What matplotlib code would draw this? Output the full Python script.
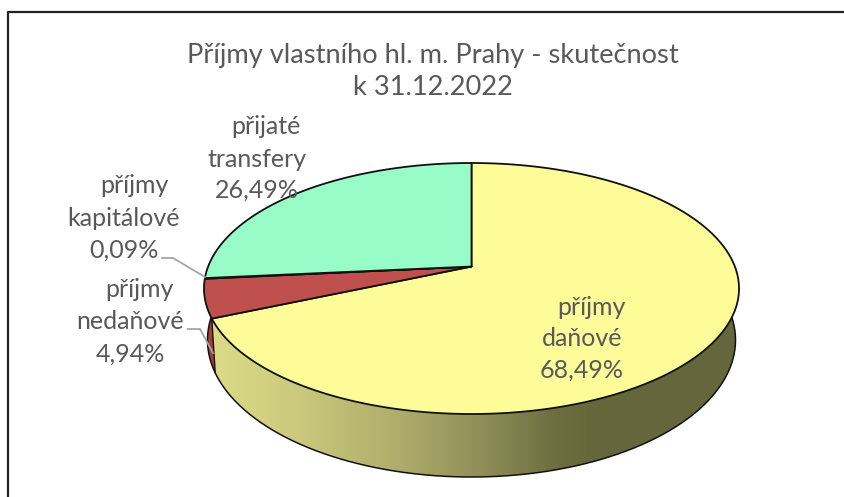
import numpy as np
import matplotlib
matplotlib.use("Agg")
import matplotlib.pyplot as plt
from matplotlib.colors import LinearSegmentedColormap
from matplotlib.patches import Polygon

plt.rcParams['font.family'] = ['Lato', 'DejaVu Sans']

# clockwise from the top
names = [["příjmy", "daňové"], ["příjmy", "nedaňové"], ["příjmy", "kapitálové"], ["přijaté", "transfery"]]
values = [68.49, 4.94, 0.09, 26.49]
labels = ["68,49%", "4,94%", "0,09%", "26,49%"]
top_colors = ["#FDFC99", "#C0504D", "#C0504D", "#97FCC7"]
title = ["Příjmy vlastního hl. m. Prahy - skutečnost", "k 31.12.2022"]

text_color = "#595959"
edge = "#111111"

# top and bottom ellipses of the disc, in image pixels
cx, cy, rx, ry = 471.5, 288.5, 267.5, 125.5
cx2, cy2, rx2, ry2 = 471.5, 340, 264, 137
tilt = 0.175  # perspective moves the pie centre up inside the ellipse


def project(theta, cx, cy, rx, ry):
    u, v = np.sin(theta), np.cos(theta)
    d = 1 + tilt * v
    return cx + rx * u * np.sqrt(1 - tilt ** 2) / d, cy - ry * (v + tilt) / d


fig = plt.figure(figsize=(8.45, 4.97), dpi=100)
ax = fig.add_axes([0, 0, 1, 1])

fracs = np.array(values) / sum(values)
edges = np.concatenate([[0], np.cumsum(fracs)]) * 2 * np.pi

# side wall of the yellow slice, shaded left to right
t = np.linspace(edges[0], edges[1], 300)
xa, ya = project(t, cx, cy, rx, ry)
xb, yb = project(t, cx2, cy2, rx2, ry2)
wall = Polygon(np.r_[np.c_[xa, ya], np.c_[xb, yb][::-1]], fc="none", ec="none", zorder=1)
ax.add_patch(wall)
shade = LinearSegmentedColormap.from_list("wall", [
    (0.0, "#DDDC88"), (0.13, "#D0CF80"), (0.36, "#AEAD6B"), (0.52, "#8F8E59"),
    (0.66, "#6C6C40"), (0.74, "#66663C"), (1.0, "#66663C")])
im = ax.imshow(np.linspace(0, 1, 256)[None, :], cmap=shade, extent=[205, 740, 497, 0],
               aspect="auto", zorder=1)
im.set_clip_path(wall)

ax.set_xlim(0, 845)
ax.set_ylim(497, 0)
ax.axis("off")

# red sliver on the far left
t = np.linspace(edges[1], edges[2], 60)
xa, ya = project(t, cx, cy, rx, ry)
t2 = np.linspace(edges[1], edges[2] + 0.15, 60)
xb, yb = project(t2, cx2, cy2, rx2, ry2)
ax.add_patch(Polygon(np.r_[np.c_[xa, ya], np.c_[xb, yb][::-1]], fc="#A53D3B", ec="none", zorder=1.5))

# outlines of the wall
t = np.linspace(np.pi * 0.5 - 0.02, edges[2] + 0.15, 500)
xb, yb = project(t, cx2, cy2, rx2, ry2)
ax.plot(xb, yb, color=edge, lw=1.1, zorder=2)
p1 = project(edges[1], cx, cy, rx, ry)
p2 = project(edges[1], cx2, cy2, rx2, ry2)
ax.plot([p1[0], p2[0]], [p1[1], p2[1]], color=edge, lw=1.0, zorder=2)
ax.plot([cx + rx, xb[0]], [cy, yb[0]], color=edge, lw=1.0, zorder=2)

# slices on top
hub = (cx, cy - ry * tilt)
for i in range(len(values)):
    t = np.linspace(edges[i], edges[i + 1], 300)
    xs, ys = project(t, cx, cy, rx, ry)
    ax.add_patch(Polygon(np.r_[[hub], np.c_[xs, ys]], fc=top_colors[i], ec=edge, lw=1.3,
                         joinstyle="round", zorder=3))

# leader lines
ax.plot([162, 173, 205], [258, 258, 277], color="#A6A6A6", lw=1.3, zorder=4)
ax.plot([188, 200, 213], [329, 329, 353], color="#A6A6A6", lw=1.3, zorder=4)

# frame: only the top and left edges are in the crop
ax.plot([8.5, 8.5, 845], [497, 11.5, 11.5], color="#222222", lw=1.6, zorder=5)

for line, y in zip(title, [63, 95]):
    ax.text(433, y, line, ha="center", va="baseline", fontsize=19.6, color=text_color)

# first line sits a bit to the right in the original labels
line_x = [(591, 582), (139, 130), (134, 124), (266, 257)]
line_y = [(315, 346, 378), (297, 329, 362), (193, 226, 258), (134, 167, 198)]
for name, lab, xs, ys in zip(names, labels, line_x, line_y):
    rows = [name[0], name[1], lab]
    for row, x, y in zip(rows, (xs[0], xs[1], xs[1]), ys):
        ax.text(x, y, row, ha="center", va="baseline", fontsize=18, color=text_color, zorder=6)

fig.savefig("out.png", dpi=100)
